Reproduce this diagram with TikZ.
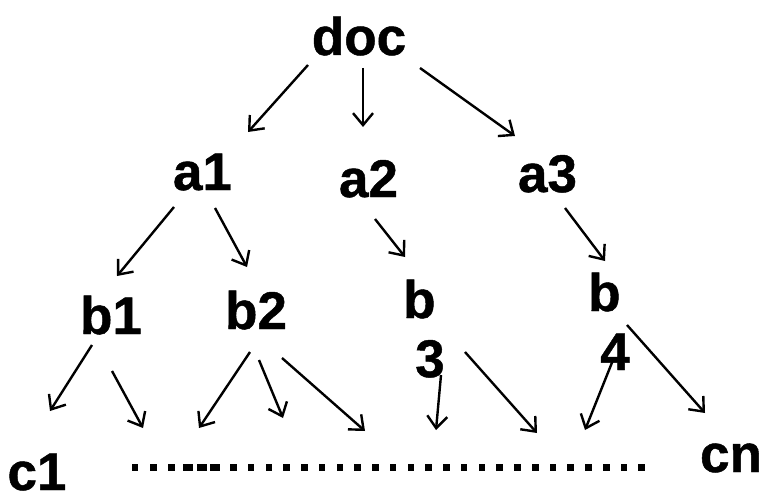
\documentclass[tikz,border=0pt]{standalone}
\usepackage{fontspec}
\setmainfont{Liberation Sans}[BoldFeatures={FakeBold=0.9}]
\usetikzlibrary{arrows.meta}
\begin{document}
\begin{tikzpicture}[x=1pt,y=-1pt,
  lbl/.style={font=\fontsize{53}{59}\selectfont\bfseries, inner sep=0pt, anchor=base},
  arr/.style={line width=2.4pt, -{Straight Barb[length=12pt,width=20pt]}}]
\useasboundingbox (0,0) rectangle (763,495);
% labels
\node[lbl] (doc) at (359,55) {doc};
\node[lbl] (a1) at (202.5,190) {a1};
\node[lbl] (a2) at (368.5,197) {a2};
\node[lbl] (a3) at (547.5,192) {a3};
\node[lbl] (b1) at (111,334) {b1};
\node[lbl] (b2) at (256,329) {b2};
\node[lbl, anchor=base west, align=left] (b3) at (403,377) {b\\\hspace{12pt}3};
\node[lbl, anchor=base west, align=left] (b4) at (588,370) {b\\\hspace{12pt}4};
\node[lbl] (c1) at (37,490) {c1};
\node[lbl] (cn) at (731,472) {cn};
% connector end points
\coordinate (d1s) at (308,65);  \coordinate (d1e) at (248,132);
\coordinate (d2s) at (363,68);  \coordinate (d2e) at (363,127);
\coordinate (d3s) at (420,68);  \coordinate (d3e) at (515,136);
\coordinate (a1s1) at (174,207); \coordinate (a1e1) at (117,276);
\coordinate (a1s2) at (215,208); \coordinate (a1e2) at (247,267);
\coordinate (a2s) at (375,219); \coordinate (a2e) at (405,257);
\coordinate (a3s) at (565,208); \coordinate (a3e) at (605,261);
\coordinate (b1s1) at (92,345);  \coordinate (b1e1) at (50,411);
\coordinate (b1s2) at (112,371); \coordinate (b1e2) at (143,428);
\coordinate (b2s1) at (250,352); \coordinate (b2e1) at (199,428);
\coordinate (b2s2) at (259,360); \coordinate (b2e2) at (283,418);
\coordinate (b2s3) at (282,358); \coordinate (b2e3) at (365,431);
\coordinate (b3s1) at (441,375); \coordinate (b3e1) at (436,430);
\coordinate (b3s2) at (465,352); \coordinate (b3e2) at (537,433);
\coordinate (b4s1) at (613,360); \coordinate (b4e1) at (585,430);
\coordinate (b4s2) at (627,325); \coordinate (b4e2) at (705,413);
\foreach \s/\e in {d1s/d1e,d2s/d2e,d3s/d3e,a1s1/a1e1,a1s2/a1e2,a2s/a2e,a3s/a3e,
  b1s1/b1e1,b1s2/b1e2,b2s1/b2e1,b2s2/b2e2,b2s3/b2e3,b3s1/b3e1,b3s2/b3e2,b4s1/b4e1,b4s2/b4e2}
  \draw[arr] (\s) -- (\e);
% dotted row
\foreach \x in {135,153.3,171.7} \fill ({\x-3.3},464) rectangle ++(6.6,7);
\foreach \x in {188,201.7,215} \fill ({\x-5},464) rectangle ++(10,7);
\foreach \i in {0,...,23} \fill ({233.3+17.76*\i-3.3},464) rectangle ++(6.6,7);
\end{tikzpicture}
\end{document}
